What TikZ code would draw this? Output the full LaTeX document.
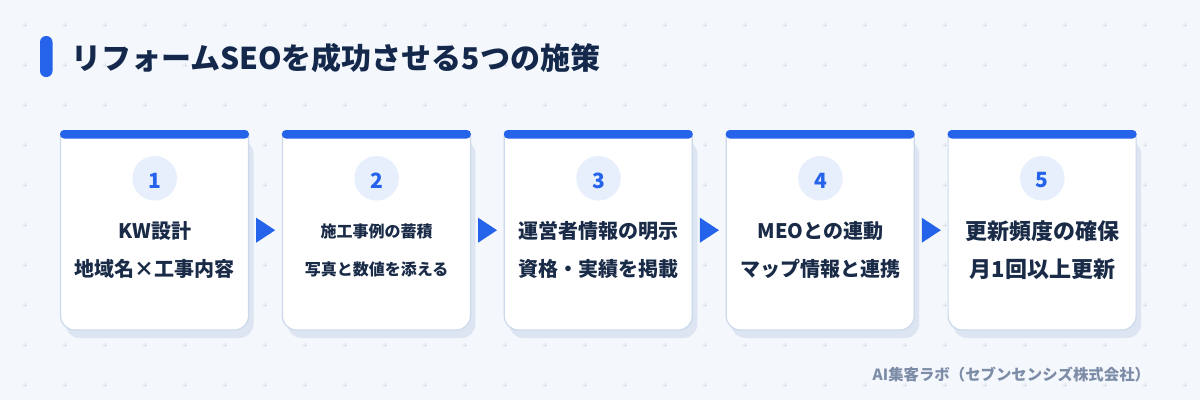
\documentclass[tikz,border=0pt]{standalone}
\usepackage{fontspec}
\setmainfont{Noto Sans CJK JP}
\usetikzlibrary{calc}
\definecolor{bgc}{HTML}{F4F7FC}
\definecolor{dotc}{HTML}{DAE1EE}
\definecolor{accent}{HTML}{2563EB}
\definecolor{titlec}{HTML}{13284B}
\definecolor{textc}{HTML}{1A2B48}
\definecolor{cardline}{HTML}{CBD9EB}
\definecolor{shadowc}{HTML}{DCE5F1}
\definecolor{circc}{HTML}{E7EFFC}
\definecolor{footc}{HTML}{7D8DA7}
\tikzset{
  titlestyle/.style={font=\bfseries\fontsize{30}{30}\selectfont, text=titlec, inner sep=0},
  numstyle/.style={font=\bfseries\fontsize{21}{21}\selectfont, text=accent, inner sep=0},
  footstyle/.style={font=\bfseries\fontsize{15.4}{15.4}\selectfont, text=footc, inner sep=0},
  cardbox/.style={minimum width=188, minimum height=200, inner sep=0, anchor=north west},
  numdisc/.style={circle, fill=circc, minimum size=44.6, inner sep=0},
}
\begin{document}
\begin{tikzpicture}[x=1pt,y=1pt]
\fill[bgc] (0,0) rectangle (1200,-400);
\useasboundingbox (0,0) rectangle (1200,-400);
\foreach \x in {25,65,...,1185} {
  \foreach \y in {25,65,...,385} {
    \draw[dotc, line width=0.7] (\x-2.2,-\y) -- (\x+2.2,-\y) (\x,-\y-2.2) -- (\x,-\y+2.2);
  }
}
% title
\fill[accent, rounded corners=6] (40,-36) rectangle (52.5,-77);
\node[titlestyle, anchor=west] (title) at (71,-58.5) {リフォームSEOを成功させる5つの施策};
% cards
\foreach \i/\fs/\la/\lb in {1/20/KW設計/地域名×工事内容, 2/16/施工事例の蓄積/写真と数値を添える, 3/20/運営者情報の明示/資格・実績を掲載, 4/20/MEOとの連動/マップ情報と連携, 5/22/更新頻度の確保/月1回以上更新} {
  \pgfmathsetmacro\lx{60.5+221.9*(\i-1)}
  \fill[shadowc, rounded corners=14] (\lx+5,-140) rectangle (\lx+193,-338);
  \draw[cardline, line width=1.2, fill=white] (\lx,-136) [rounded corners=14]-- (\lx,-330) -- (\lx+188,-330) [sharp corners]-- (\lx+188,-136) -- cycle;
  \fill[accent, rounded corners=4] (\lx-0.5,-130) rectangle (\lx+188.5,-138.5);
  \node[cardbox] (card\i) at (\lx,-130) {};
  \node[numdisc] (circ\i) at ($(card\i.north)+(0,-48.3)$) {};
  \node[numstyle] (num\i) at ($(circ\i.center)+(0,-2.2)$) {\i};
  \node[font=\bfseries\fontsize{\fs}{\fs}\selectfont, text=textc, inner sep=0] (la\i) at ($(card\i.north)+(0,-101)$) {\la};
  \node[font=\bfseries\fontsize{\fs}{\fs}\selectfont, text=textc, inner sep=0] (lb\i) at ($(card\i.north)+(0,-139)$) {\lb};
}
% arrows
\foreach \a/\b in {1/2,2/3,3/4,4/5} {
  \fill[accent] ($(card\a.east)!0.5!(card\b.west)$) ++(-9.5,12.5) -- ++(19,-12.5) -- ++(-19,-12.5) -- cycle;
}
% footer
\node[footstyle, anchor=west] (footer) at (872.5,-375) {AI集客ラボ（セブンセンシズ株式会社）};
\end{tikzpicture}
\end{document}
